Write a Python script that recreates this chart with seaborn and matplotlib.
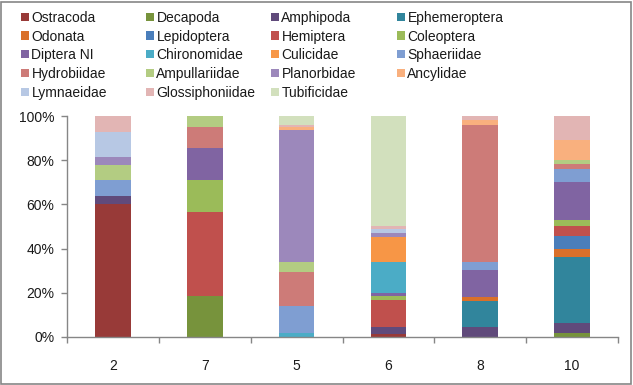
import matplotlib
matplotlib.use("Agg")
from matplotlib import pyplot as plt
from matplotlib.patches import Patch, Rectangle
from matplotlib.ticker import PercentFormatter
import seaborn as sns
import pandas as pd
import numpy as np

# Lokality (poradi na ose x)
sites = ["2", "7", "5", "6", "8", "10"]

# Taxony v poradi vrstveni (odspodu nahoru) a legendy
taxa = ["Ostracoda", "Decapoda", "Amphipoda", "Ephemeroptera",
        "Odonata", "Lepidoptera", "Hemiptera", "Coleoptera",
        "Diptera NI", "Chironomidae", "Culicidae", "Sphaeriidae",
        "Hydrobiidae", "Ampullariidae", "Planorbidae", "Ancylidae",
        "Lymnaeidae", "Glossiphoniidae", "Tubificidae"]

colors = ["#983a38", "#77933c", "#604a7b", "#31859c",
          "#d9702a", "#4a7ebb", "#c0504d", "#9bbb59",
          "#8064a2", "#4bacc6", "#f79646", "#7f9ed2",
          "#cd7b78", "#b3cc82", "#9c88bb", "#f9b07e",
          "#b7c8e4", "#e2b5b4", "#d2e0bd"]

# Podily (%) pro lokality 2, 7, 5, 6, 8, 10
ostracoda = [60, 0, 0, 1.5, 0, 0]
decapoda = [0, 18.5, 0, 0, 0, 1.7]
amphipoda = [4, 0, 0, 3, 4.7, 4.5]
ephemeroptera = [0, 0, 0, 0, 11.8, 29.8]
odonata = [0, 0, 0, 0, 1.8, 3.6]
lepidoptera = [0, 0, 0, 0, 0, 6.3]
hemiptera = [0, 37.9, 0, 12.3, 0, 4.5]
coleoptera = [0, 14.6, 0, 1.8, 0, 2.4]
diptera_ni = [0, 14.5, 0, 1.5, 12.1, 17.2]
chironomidae = [0, 0, 2, 13.9, 0, 0]
culicidae = [0, 0, 0, 11.2, 0, 0]
sphaeriidae = [7, 0, 12, 0, 3.6, 6.1]
hydrobiidae = [0, 9.4, 15.5, 0, 62.1, 2.1]
ampullariidae = [7, 5.1, 4.5, 0, 0, 2.1]
planorbidae = [3.6, 0, 59.5, 1.8, 0, 0]
ancylidae = [0, 0, 1.5, 0, 2.1, 9]
lymnaeidae = [11, 0, 0, 1.8, 0, 0]
glossiphoniidae = [7.4, 0, 1, 1.5, 1.8, 10.6]
tubificidae = [0, 0, 4, 49.7, 0, 0]

hodnoty = [ostracoda, decapoda, amphipoda, ephemeroptera, odonata,
           lepidoptera, hemiptera, coleoptera, diptera_ni, chironomidae,
           culicidae, sphaeriidae, hydrobiidae, ampullariidae, planorbidae,
           ancylidae, lymnaeidae, glossiphoniidae, tubificidae]

# Dlouha tabulka pro seaborn
radky = []
for taxon, vals in zip(taxa, hodnoty):
    for site, v in zip(sites, vals):
        radky.append((site, taxon, v))
df = pd.DataFrame(radky, columns=["site", "taxon", "pct"])
df["site"] = pd.Categorical(df["site"], categories=sites, ordered=True)

sns.set_style("white")
plt.rcParams["font.family"] = ["Liberation Sans", "DejaVu Sans"]

paleta = dict(zip(taxa, colors))
seda = "#868686"
fs = 10

fig = plt.figure(figsize=(6.33, 3.85), dpi=100)
ax = fig.add_axes([67 / 633, 48 / 385, 551 / 633, 221 / 385])

sns.histplot(data=df, x="site", hue="taxon", weights="pct",
             hue_order=taxa[::-1], palette=paleta, multiple="stack",
             discrete=True, shrink=0.39, linewidth=0, edgecolor="none",
             alpha=1, legend=False, ax=ax)

ax.set_xlim(-0.5, len(sites) - 0.5)
ax.set_ylim(0, 100)
ax.set_yticks(np.arange(0, 101, 20))
ax.yaxis.set_major_formatter(PercentFormatter(100, decimals=0))
ax.set_xticks(range(len(sites)))
ax.set_xticklabels(sites)
ax.set_xticks(np.arange(-0.5, len(sites), 1), minor=True)
ax.set_xlabel("")
ax.set_ylabel("")

ax.tick_params(axis="x", which="major", length=0, pad=16, labelsize=fs,
               labelcolor="#1a1a1a")
ax.tick_params(axis="x", which="minor", length=4, width=1, color=seda,
               direction="out", bottom=True)
ax.tick_params(axis="y", length=4, width=1, color=seda, direction="out",
               left=True, pad=5, labelsize=fs, labelcolor="#1a1a1a")

for s in ["top", "right"]:
    ax.spines[s].set_visible(False)
for s in ["left", "bottom"]:
    ax.spines[s].set_color(seda)
    ax.spines[s].set_linewidth(1)

# Legenda ve 4 sloupcich, razeni po radcich
xs = [21 / 633, 146 / 633, 271 / 633, 397 / 633]
for c in range(4):
    idx = list(range(c, len(taxa), 4))
    handles = [Patch(facecolor=colors[i], edgecolor="none") for i in idx]
    labels = [taxa[i] for i in idx]
    fig.legend(handles, labels, loc="upper left",
               bbox_to_anchor=(xs[c], 0.972), frameon=False,
               borderpad=0, borderaxespad=0, handlelength=0.55,
               handleheight=0.55, handletextpad=0.2, labelspacing=0.34,
               fontsize=fs, labelcolor="#1a1a1a")

# Ramecek kolem celeho grafu
fig.patches.append(Rectangle((0.002, 0.003), 0.995, 0.993,
                             transform=fig.transFigure, fill=False,
                             edgecolor=seda, linewidth=1.2))

fig.savefig("out.png", dpi=100)
